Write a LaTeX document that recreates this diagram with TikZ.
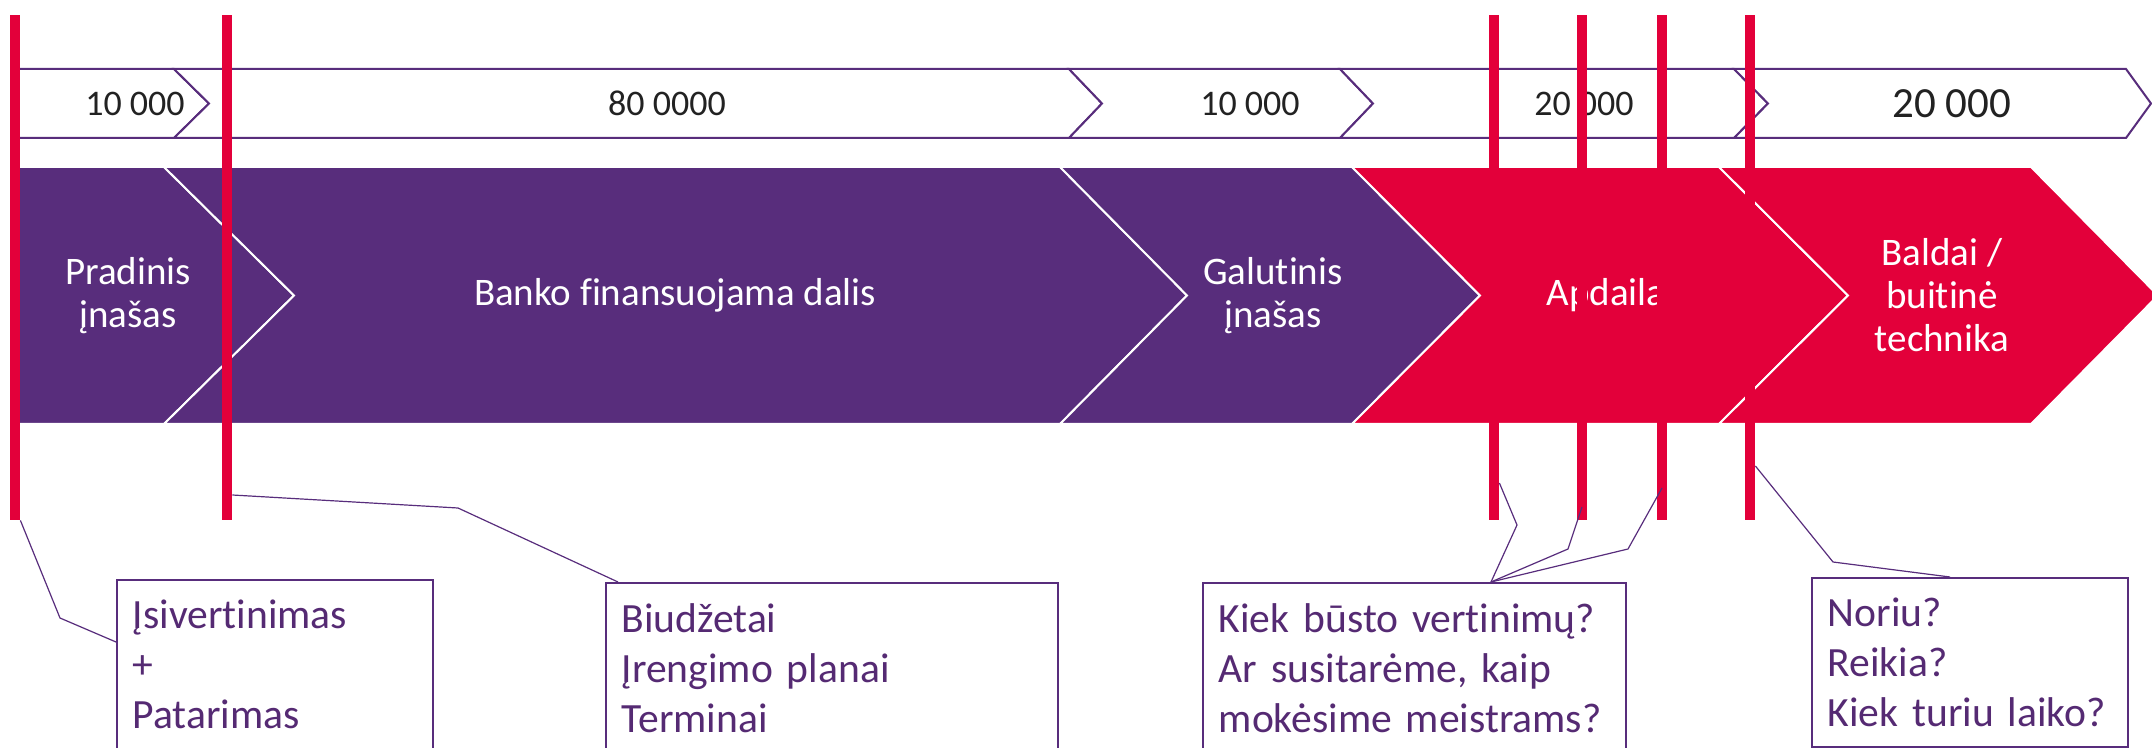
\documentclass[tikz,border=0pt]{standalone}
\usepackage{fontspec}
\setmainfont{Carlito}[Ligatures={NoCommon}]
\usepackage{xcolor}
\usepackage{tikz}
\usetikzlibrary{
  positioning
}
\definecolor{loanpurple}{HTML}{582D7C}
\definecolor{loanred}{HTML}{E3003A}
\definecolor{notetext}{HTML}{552A73}
\definecolor{sumtext}{HTML}{222222}
\tikzset{
  stripchev/.style={
    draw=loanpurple,
    fill=white,
    line width=1pt,
  },
  bandchev/.style={
    draw=white,
    line width=1pt,
  },
  sumlbl/.style={
    font=\fontsize{18}{21}\selectfont,
    text=sumtext,
    inner sep=0pt,
  },
  bandlbl/.style={
    font=\fontsize{19.5}{21.5}\selectfont,
    text=white,
    align=center,
    inner sep=0pt,
  },
  redbar/.style={
    fill=loanred,
    minimum width=5pt,
    minimum height=252.5pt,
    inner sep=0pt,
  },
  notebox/.style={
    draw=loanpurple,
    fill=white,
    line width=0.8pt,
    anchor=north west,
    align=left,
    inner xsep=8pt,
    inner ysep=0pt,
    minimum height=85pt,
    font=\fontsize{20.8}{25}\selectfont,
    text=notetext,
  },
  callout/.style={
    draw=loanpurple,
    line width=0.6pt,
  },
}

\begin{document}
\begin{tikzpicture}[
  x=0.5pt, y=-0.5pt,
]
  \useasboundingbox (0,0) rectangle (2152,748);
  \clip (0,0) rectangle (2152,748);

  % Row 1 — sums strip
  \filldraw[stripchev] (12,69) -- (174,69) -- (209,103.5) -- (174,138) -- (12,138) -- cycle;
  \filldraw[stripchev] (174,69) -- (1069,69) -- (1102,103.5) -- (1069,138) -- (174,138) -- (209,103.5) -- cycle;
  \filldraw[stripchev] (1069,69) -- (1340,69) -- (1373,103.5) -- (1340,138) -- (1069,138) -- (1102,103.5) -- cycle;
  \filldraw[stripchev] (1340,69) -- (1734,69) -- (1768,103.5) -- (1734,138) -- (1340,138) -- (1373,103.5) -- cycle;
  \filldraw[stripchev] (1734,69) -- (2126,69) -- (2151,103.5) -- (2126,138) -- (1734,138) -- (1768,103.5) -- cycle;

  \node[sumlbl] (sumA) at (135,103.5) {10 000};
  \node[sumlbl] (sumB) at (667,103.5) {80 0000};
  \node[sumlbl] (sumC) at (1250,103.5) {10 000};
  \node[sumlbl] (sumD) at (1584,103.5) {20 000};
  \node[sumlbl, font=\fontsize{21.5}{24}\selectfont] (sumE) at (1952,103.5) {20 000};

  % Row 2 — stages band
  \filldraw[bandchev, fill=loanpurple] (12,167) -- (164,167) -- (294,295.5) -- (164,424) -- (12,424) -- cycle;
  \filldraw[bandchev, fill=loanpurple] (164,167) -- (1060,167) -- (1187,295.5) -- (1060,424) -- (164,424) -- (294,295.5) -- cycle;
  \filldraw[bandchev, fill=loanpurple] (1060,167) -- (1352,167) -- (1480,295.5) -- (1352,424) -- (1060,424) -- (1187,295.5) -- cycle;
  \filldraw[bandchev, fill=loanred] (1352,167) -- (1719,167) -- (1848,295.5) -- (1719,424) -- (1352,424) -- (1480,295.5) -- cycle;
  \filldraw[bandchev, fill=loanred] (1719,167) -- (2031,167) -- (2158,295.5) -- (2031,424) -- (1719,424) -- (1848,295.5) -- cycle;

  \node[bandlbl] (pradinis) at (128,295.5) {Pradinis\\įnašas};
  \node[bandlbl] (banko) at (675,295.5) {Banko finansuojama dalis};
  \node[bandlbl] (galutinis) at (1273,295.5) {Galutinis\\įnašas};
  \node[bandlbl] (apdaila) at (1606,295.5) {Apdaila};
  \node[bandlbl] (baldai) at (1942,295.5) {Baldai /\\buitinė\\technika};

  % Milestone bars
  \node[redbar] (bar1) at (15,267.5) {};
  \node[redbar] (bar2) at (227,267.5) {};
  \node[redbar] (bar3) at (1494,267.5) {};
  \node[redbar] (bar4) at (1582,267.5) {};
  \node[redbar] (bar5) at (1662,267.5) {};
  \node[redbar] (bar6) at (1750,267.5) {};

  % Row 3 — notes
  \node[notebox, text width=142pt] (noteA) at (116,579) {Įsivertinimas\\+\\Patarimas};
  \node[notebox, text width=210pt] (noteB) at (605,582) {Biudžetai\\Įrengimo planai\\Terminai};
  \node[notebox, text width=195.5pt] (noteC) at (1202,582) {Kiek būsto vertinimų?\\Ar susitarėme, kaip\\mokėsime meistrams?};
  \node[notebox, text width=142pt, minimum height=84.5pt] (noteD) at (1811,577) {Noriu?\\Reikia?\\Kiek turiu laiko?};

  \draw[callout] (bar1.south east) -- (60,618) -- (noteA.north west |- 0,642);
  \draw[callout] (bar2.east |- 0,495) -- (458,508) -- (noteB.north west -| 618,0);
  \draw[callout] (bar3.east |- 0,483) -- (1517,525) -- (noteC.north west -| 1491,0);
  \draw[callout] (bar4.center |- 0,507) -- (1568,549) -- (noteC.north west -| 1491,0);
  \draw[callout] (bar5.center |- 0,488) -- (1628,549) -- (noteC.north west -| 1491,0);
  \draw[callout] (bar6.east |- 0,466) -- (1833,562) -- (noteD.north west -| 1950,0);
\end{tikzpicture}
\end{document}
